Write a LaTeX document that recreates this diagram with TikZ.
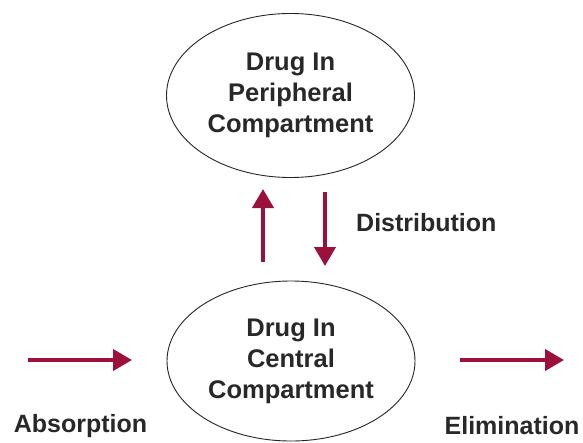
\documentclass[tikz,border=0pt]{standalone}
\usepackage{fontspec}
\setmainfont{Liberation Sans}
\usetikzlibrary{shapes.geometric,arrows.meta}
\definecolor{arrowred}{RGB}{155,17,60}
\definecolor{txtgray}{RGB}{40,40,40}
\begin{document}
\begin{tikzpicture}[x=1pt,y=-1pt,
  comp/.style={ellipse,draw=black!85,line width=0.9pt,minimum width=248pt,minimum height=164pt,inner sep=0pt,
    align=center,text=txtgray,font=\bfseries\fontsize{25.5}{31}\selectfont},
  lab/.style={text=txtgray,font=\bfseries\fontsize{25}{30}\selectfont,inner sep=0pt},
  flow/.style={draw=arrowred,line width=4pt,-{Triangle[length=19pt,width=21pt]}}]
\useasboundingbox[fill=white] (0,0) rectangle (583,442);
\node[comp] (peri) at (290.5,95.5) {Drug In\\Peripheral\\Compartment};
\node[comp,minimum height=160pt] (cent) at (291,361) {Drug In\\Central\\Compartment};
\node[lab,anchor=west] (dist) at (356,223) {Distribution};
\node[lab] (abs) at (80.5,426) {Absorption};
\node[lab] (elim) at (512,426) {Elimination};
\coordinate (upS) at (263,262);
\coordinate (upE) at (263,189);
\coordinate (dnS) at (325,192);
\coordinate (dnE) at (325,266);
\coordinate (absS) at (28,360);
\coordinate (absE) at (132,360);
\coordinate (elS) at (460,360);
\coordinate (elE) at (564,360);
\draw[flow] (upS) -- (upE);
\draw[flow] (dnS) -- (dnE);
\draw[flow] (absS) -- (absE);
\draw[flow] (elS) -- (elE);
\end{tikzpicture}
\end{document}
